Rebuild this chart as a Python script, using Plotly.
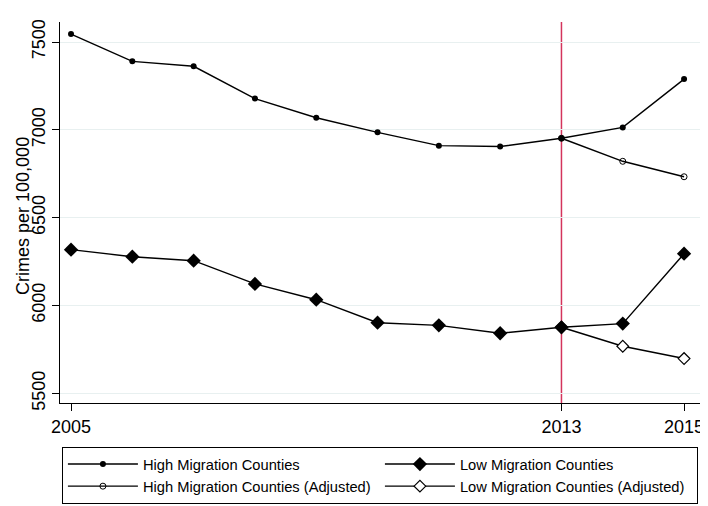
import plotly.graph_objects as go

years = [2005, 2006, 2007, 2008, 2009, 2010, 2011, 2012, 2013, 2014, 2015]
high = [7545, 7390, 7362, 7178, 7069, 6986, 6910, 6905, 6952, 7014, 7289]
low = [6318, 6278, 6255, 6123, 6033, 5902, 5887, 5842, 5876, 5897, 6295]
adj_years = [2013, 2014, 2015]
high_adj = [6952, 6821, 6733]
low_adj = [5876, 5768, 5698]
x_ticks = [2005, 2013, 2015]
y_ticks = [5500, 6000, 6500, 7000, 7500]
event_year = 2013

font = "Liberation Sans, Arial, sans-serif"
fig = go.Figure()
fig.add_trace(go.Scatter(x=adj_years, y=high_adj, mode="lines+markers", name="High Migration Counties (Adjusted)",
                         legendrank=3,
                         line=dict(color="black", width=1.4),
                         marker=dict(symbol="circle-open", size=6, color="black", line=dict(width=1))))
fig.add_trace(go.Scatter(x=adj_years, y=low_adj, mode="lines+markers", name="Low Migration Counties (Adjusted)",
                         legendrank=4,
                         line=dict(color="black", width=1.4),
                         marker=dict(symbol="diamond", size=9, color="white", line=dict(width=1.2, color="black"))))
fig.add_trace(go.Scatter(x=years, y=high, mode="lines+markers", name="High Migration Counties",
                         legendrank=1,
                         line=dict(color="black", width=1.4),
                         marker=dict(symbol="circle", size=6, color="black")))
fig.add_trace(go.Scatter(x=years, y=low, mode="lines+markers", name="Low Migration Counties",
                         legendrank=2,
                         line=dict(color="black", width=1.4),
                         marker=dict(symbol="diamond", size=11, color="black")))

fig.add_vline(x=event_year, line=dict(color="#d4345c", width=1.5), layer="below")

fig.add_annotation(text="Crimes per 100,000", xref="paper", yref="paper", x=-0.0578, y=0.491,
                   xanchor="center", yanchor="middle", textangle=-90, showarrow=False,
                   font=dict(size=18, color="black", family=font))

fig.update_layout(
    width=700, height=498,
    margin=dict(l=52, r=8, t=14, b=103, autoexpand=False),
    paper_bgcolor="white", plot_bgcolor="white",
    font=dict(family=font, color="black", size=17),
    showlegend=True,
    legend=dict(orientation="h", x=0.003, xanchor="left", y=-0.1155, yanchor="top",
                bordercolor="black", borderwidth=1, entrywidth=232, entrywidthmode="pixels",
                font=dict(size=14.7), tracegroupgap=0, itemwidth=70),
    xaxis=dict(range=[2004.82, 2015.26], tickvals=x_ticks, ticks="outside", ticklen=7,
               tickcolor="black", showline=True, linecolor="black", linewidth=1,
               showgrid=False, zeroline=False, tickfont=dict(size=18)),
    yaxis=dict(range=[5445, 7614], tickvals=y_ticks, ticks="outside", ticklen=7,
               tickcolor="black", showline=True, linecolor="black", linewidth=1,
               showgrid=True, gridcolor="#e8f0f0", gridwidth=1, zeroline=False,
               tickangle=-90, tickfont=dict(size=18)),
)
fig.write_html("out.html")
